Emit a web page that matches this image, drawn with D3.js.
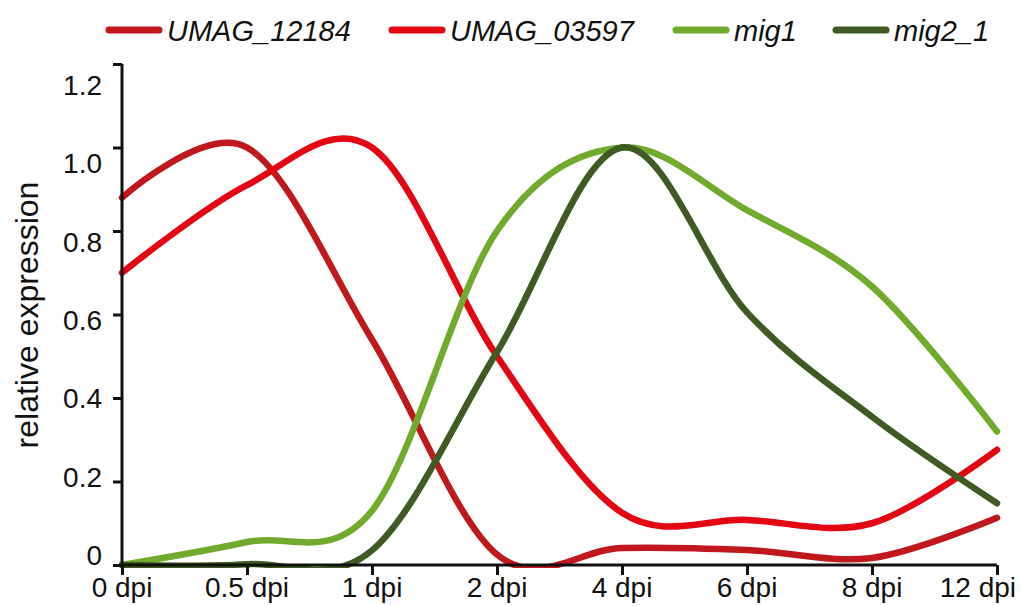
<!DOCTYPE html>
<html lang="en">
<head>
<meta charset="utf-8">
<title>relative expression</title>
<script src="https://cdn.jsdelivr.net/npm/d3@7"></script>
<style>
body { margin: 0; background: #fff; }
text { font-family: "Liberation Sans", Arial, sans-serif; fill: #111; }
</style>
</head>
<body>
<script>

// data
var categories = ["0 dpi", "0.5 dpi", "1 dpi", "2 dpi", "4 dpi", "6 dpi", "8 dpi", "12 dpi"];
var umag12184 = [0.88, 1.00, 0.54, 0.025, 0.041, 0.036, 0.017, 0.113];
var umag03597 = [0.70, 0.91, 1.00, 0.50, 0.125, 0.108, 0.10, 0.276];
var mig1 = [0.0, 0.055, 0.13, 0.80, 1.00, 0.85, 0.667, 0.32];
var mig2_1 = [0.0, 0.002, 0.035, 0.51, 1.00, 0.605, 0.355, 0.148];
var yTicks = [0, 0.2, 0.4, 0.6, 0.8, 1.0, 1.2];
var seriesNames = ["UMAG_12184", "UMAG_03597", "mig1", "mig2_1"];
var seriesColors = ["#c0181c", "#e30613", "#72aa2e", "#3f5b23"];

var w = 1021, h = 606;
var svg = d3.select("body").append("svg")
  .attr("width", w)
  .attr("height", h);

var x = d3.scalePoint().domain(categories).range([122, 997]);
var y = d3.scaleLinear().domain([0, 1.2]).range([565, 64]);
// tick labels in the picture sit on a slightly tighter spacing than the ticks
var yLab = d3.scaleLinear().domain([0, 1.2]).range([565, 95]);

// clip so the smoothing does not poke below the x axis
svg.append("clipPath").attr("id", "plotclip")
  .append("rect").attr("x", 0).attr("y", 0).attr("width", w).attr("height", 568);

var line = d3.line()
  .x(function(d, i) { return x(categories[i]); })
  .y(function(d) { return y(d); })
  .curve(d3.curveCardinal.tension(0));

var allSeries = [umag12184, umag03597, mig1, mig2_1];

svg.append("g").attr("clip-path", "url(#plotclip)")
  .selectAll("path")
  .data(allSeries)
  .enter()
  .append("path")
  .attr("d", line)
  .attr("fill", "none")
  .attr("stroke", function(d, i) { return seriesColors[i]; })
  .attr("stroke-width", 6.5)
  .attr("stroke-linecap", "round");

// y axis
var yAxis = svg.append("g")
  .attr("transform", "translate(122,0)")
  .call(d3.axisLeft(y).tickValues(yTicks).tickSize(9).tickFormat(""));
yAxis.select(".domain").attr("d", "M0," + y(1.2) + "V" + y(0));

svg.append("g").selectAll("text")
  .data(yTicks)
  .enter()
  .append("text")
  .attr("x", 102)
  .attr("y", function(d) { return yLab(d); })
  .attr("text-anchor", "end")
  .attr("font-size", "28px")
  .text(function(d) { return d === 0 ? "0" : d3.format(".1f")(d); });

// x axis
var xAxis = svg.append("g")
  .attr("transform", "translate(0,565)")
  .call(d3.axisBottom(x).tickSize(10).tickFormat(""));
xAxis.select(".domain").attr("d", "M122,0H997");

svg.append("g").selectAll("text")
  .data(categories)
  .enter()
  .append("text")
  .attr("x", function(d, i) { return i === categories.length - 1 ? 1016 : x(d); })
  .attr("y", 597)
  .attr("text-anchor", function(d, i) { return i === categories.length - 1 ? "end" : "middle"; })
  .attr("font-size", "28px")
  .text(function(d) { return d; });

svg.selectAll(".domain, .tick line")
  .attr("stroke", "#111")
  .attr("stroke-width", 3);

// y label
svg.append("text")
  .attr("transform", "translate(38,315) rotate(-90)")
  .attr("text-anchor", "middle")
  .attr("font-size", "32px")
  .text("relative expression");

// legend
var legendX = [106, 389, 673, 833];
var legend = svg.append("g").selectAll("g")
  .data(seriesNames)
  .enter()
  .append("g")
  .attr("transform", function(d, i) { return "translate(" + legendX[i] + ",30)"; });

legend.append("line")
  .attr("x1", 3).attr("x2", 53)
  .attr("y1", 0).attr("y2", 0)
  .attr("stroke", function(d, i) { return seriesColors[i]; })
  .attr("stroke-width", 7)
  .attr("stroke-linecap", "round");

legend.append("text")
  .attr("x", 61)
  .attr("y", 11)
  .attr("font-size", "29px")
  .attr("font-style", "italic")
  .text(function(d) { return d; });

</script>
</body>
</html>
